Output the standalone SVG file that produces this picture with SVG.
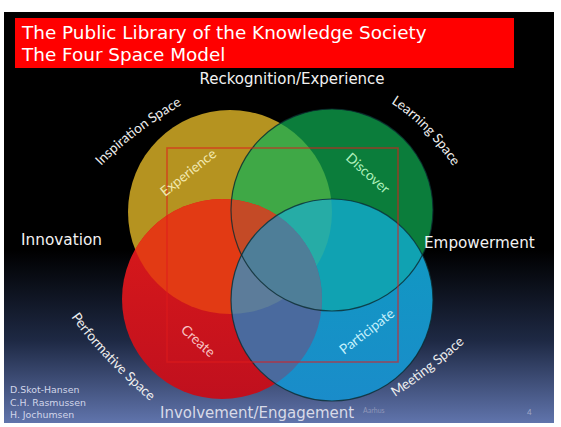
<svg xmlns="http://www.w3.org/2000/svg" width="561" height="427" viewBox="0 0 561 427">
<defs>
<style>
.dv{font-family:"DejaVu Sans",Verdana,sans-serif;}
.cal{font-family:Lato,"Liberation Sans",Arial,sans-serif;}
.arc{font-family:Lato,"Liberation Sans",Arial,sans-serif;font-size:13.6px;fill:#eeeeee;}
.inner{font-family:Lato,"Liberation Sans",Arial,sans-serif;font-size:13.8px;}
.ring{fill:none;stroke:#0b2a30;stroke-width:1.2;stroke-opacity:0.8;}
</style>
<linearGradient id="bg" x1="0" y1="0" x2="0" y2="1">
<stop offset="0" stop-color="#000000"/>
<stop offset="0.58" stop-color="#000000"/>
<stop offset="0.8" stop-color="#1e2944"/>
<stop offset="1" stop-color="#6074ac"/>
</linearGradient>
<linearGradient id="redg" x1="0" y1="0" x2="0" y2="1">
<stop offset="0" stop-color="#dc1a1a"/>
<stop offset="1" stop-color="#c0101e"/>
</linearGradient>
<linearGradient id="blueg" x1="0" y1="0" x2="0" y2="1">
<stop offset="0" stop-color="#0e9cc0"/>
<stop offset="1" stop-color="#1a8cca"/>
</linearGradient>
<clipPath id="cY"><circle cx="230" cy="212" r="102"/></clipPath>
<clipPath id="cG"><circle cx="332" cy="210" r="101"/></clipPath>
<clipPath id="cR"><circle cx="222" cy="299" r="100"/></clipPath>
<path id="pInsp" d="M101,166 Q140,126 205,92"/>
<path id="pLearn" d="M391,103 Q430,128 462,180"/>
<path id="pPerf" d="M71,317 Q104,363 165,414"/>
<path id="pMeet" d="M395,397 Q436,370 482,327"/>
</defs>

<rect x="0" y="0" width="561" height="427" fill="#ffffff"/>
<rect x="4" y="12" width="550" height="411" fill="url(#bg)"/>

<g id="title">
<rect x="15" y="18" width="499" height="50" fill="#ff0000"/>
<text class="dv" x="22" y="39" font-size="18.4" fill="#ffffff">The Public Library of the Knowledge Society</text>
<text class="dv" x="22" y="61" font-size="18.4" fill="#ffffff">The Four Space Model</text>
</g>

<g id="circles">
<g id="inspiration-circle"><circle cx="230" cy="212" r="102" fill="#b59320"/></g>
<g id="learning-circle">
<circle cx="332" cy="210" r="101" fill="#0b7d3b"/>
<g clip-path="url(#cY)"><circle cx="332" cy="210" r="101" fill="#3fa846"/></g>
</g>
<g id="performative-circle">
<circle cx="222" cy="299" r="100" fill="url(#redg)"/>
<g clip-path="url(#cY)"><circle cx="222" cy="299" r="100" fill="#e23a14"/></g>
<g clip-path="url(#cG)"><circle cx="222" cy="299" r="100" fill="#c44a26"/></g>
</g>
<g id="meeting-circle">
<circle cx="332" cy="300" r="101" fill="url(#blueg)"/>
<g clip-path="url(#cG)"><circle cx="332" cy="300" r="101" fill="#10a2b2"/></g>
<g clip-path="url(#cG)"><g clip-path="url(#cY)"><circle cx="332" cy="300" r="101" fill="#26aca6"/></g></g>
<g clip-path="url(#cR)"><circle cx="332" cy="300" r="101" fill="#4a6a9e"/></g>
<g clip-path="url(#cR)"><g clip-path="url(#cY)"><circle cx="332" cy="300" r="101" fill="#5c7c9a"/></g></g>
<g clip-path="url(#cR)"><g clip-path="url(#cG)"><circle cx="332" cy="300" r="101" fill="#4e7e98"/></g></g>
</g>
<circle class="ring" cx="332" cy="210" r="101"/>
<circle class="ring" cx="332" cy="300" r="101"/>
</g>

<g id="frame"><rect x="167" y="148" width="231" height="214" fill="none" stroke="#e01c1c" stroke-opacity="0.6" stroke-width="1.6"/></g>

<g id="inner-labels">
<text class="inner" x="0" y="0" fill="#f2e8ae" transform="translate(165,197) rotate(-38.5)">Experience</text>
<text class="inner" x="0" y="0" fill="#aef0bc" transform="translate(345,159) rotate(42)">Discover</text>
<text class="inner" x="0" y="0" fill="#f8c4c4" transform="translate(180,331) rotate(42)">Create</text>
<text class="inner" x="0" y="0" fill="#c4f0fc" transform="translate(344,355) rotate(-37.6)">Participate</text>
</g>

<g id="space-labels">
<text class="arc"><textPath href="#pInsp">Inspiration Space</textPath></text>
<text class="arc"><textPath href="#pLearn">Learning Space</textPath></text>
<text class="arc"><textPath href="#pPerf">Performative Space</textPath></text>
<text class="arc"><textPath href="#pMeet">Meeting Space</textPath></text>
</g>

<g id="axis-labels" fill="#f2f2f2">
<text class="dv" x="292" y="84" font-size="15" text-anchor="middle">Reckognition/Experience</text>
<text class="dv" x="21" y="245" font-size="15.3">Innovation</text>
<text class="dv" x="424" y="248" font-size="15.2">Empowerment</text>
<text class="dv" x="160" y="418" font-size="15" fill="#d8dae8">Involvement/Engagement</text>
</g>

<g id="footer">
<text class="dv" x="10" y="393" font-size="9.4" fill="#d2d6ea">D.Skot-Hansen</text>
<text class="dv" x="10" y="406" font-size="9.4" fill="#d2d6ea">C.H. Rasmussen</text>
<text class="dv" x="10" y="418" font-size="9.4" fill="#d2d6ea">H. Jochumsen</text>
<text class="cal" x="363" y="413" font-size="7" fill="#8e96b8">Aarhus</text>
<text class="cal" x="527" y="415" font-size="8" fill="#a0a8c8">4</text>
</g>
</svg>
